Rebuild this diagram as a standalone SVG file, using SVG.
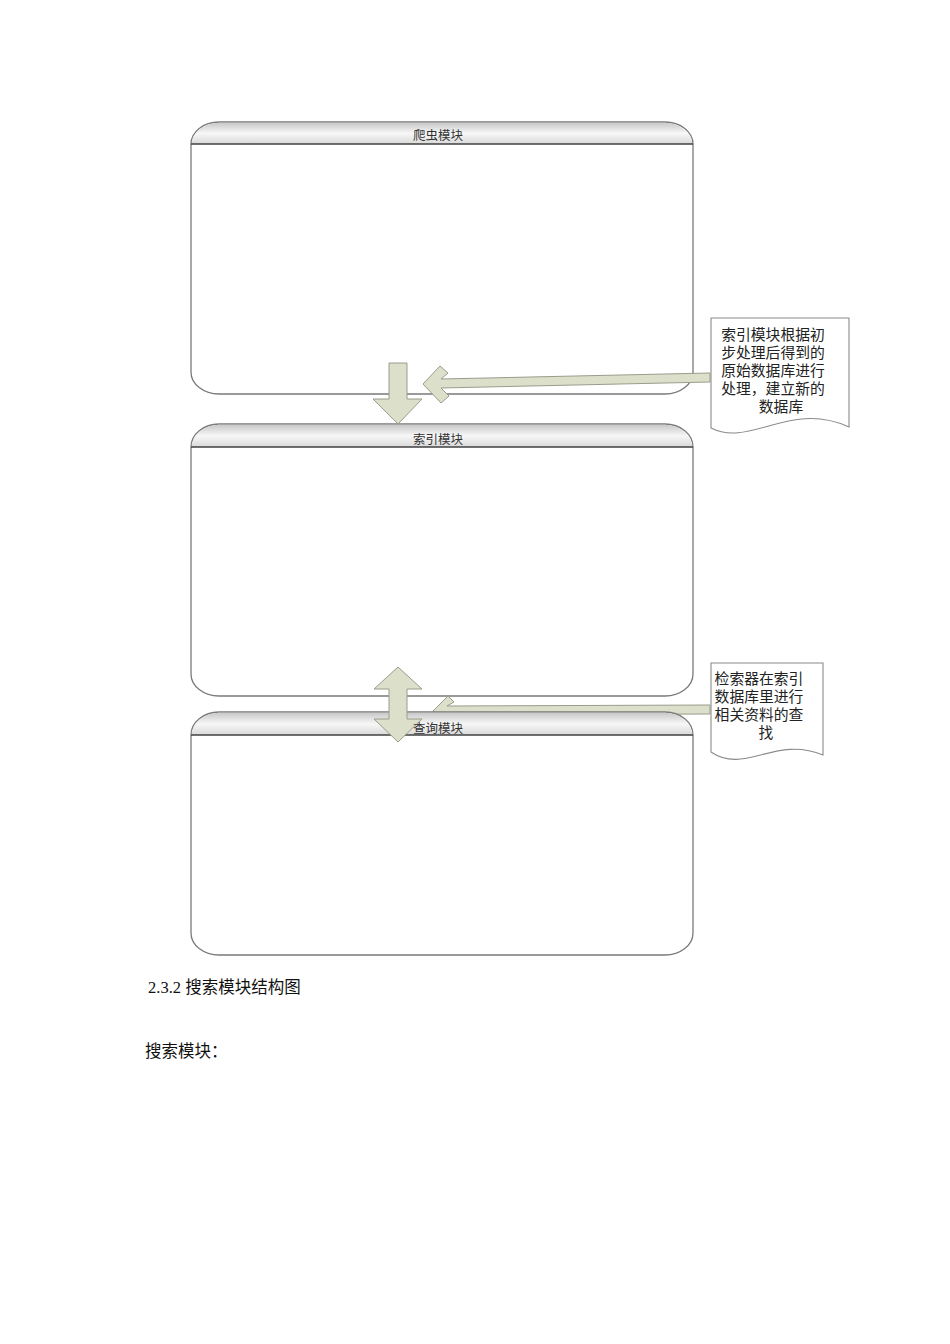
<svg xmlns="http://www.w3.org/2000/svg" width="950" height="1344" viewBox="0 0 950 1344">
<style>
.box{fill:#ffffff;stroke:#7a7a7a;stroke-width:1.3}
.hdr{fill:url(#hg);stroke:none}
.hline{stroke:#404040;stroke-width:1.5}
.lbl{font-family:"Noto Sans CJK SC","Liberation Sans",sans-serif;font-size:12.5px;fill:#333333;text-anchor:middle}
.arrow{fill:#dcdfca;stroke:#9a9c8c;stroke-width:1}
.doc{fill:#ffffff;stroke:#8a8a8a;stroke-width:1.1}
.dt{font-family:"Liberation Serif","Noto Sans CJK SC",serif;font-size:14.8px;fill:#222222;text-anchor:middle}
.body{font-family:"Liberation Serif","Noto Sans CJK SC",serif;font-size:16.5px;fill:#111111}
</style>
<defs>
<linearGradient id="hg" x1="0" y1="0" x2="0" y2="1">
<stop offset="0" stop-color="#c8c8c8"/>
<stop offset="0.5" stop-color="#f7f7f7"/>
<stop offset="1" stop-color="#d9d9d9"/>
</linearGradient>
</defs>
<rect width="950" height="1344" fill="#ffffff"/>

<g id="node-crawler">
<path class="box" d="M219 122 H665 A28 22 0 0 1 693 144 V372 A28 22 0 0 1 665 394 H219 A28 22 0 0 1 191 372 V144 A28 22 0 0 1 219 122 Z"/>
<path class="hdr" d="M191.7 144 A28 22 0 0 1 219 122.7 H665 A28 22 0 0 1 692.3 144 Z"/>
<line class="hline" x1="191" y1="144" x2="693" y2="144"/>
<text class="lbl" x="438" y="140">爬虫模块</text>
</g>

<g id="node-index">
<path class="box" d="M219 424 H665 A28 23 0 0 1 693 447 V674 A28 22 0 0 1 665 696 H219 A28 22 0 0 1 191 674 V447 A28 23 0 0 1 219 424 Z"/>
<path class="hdr" d="M191.7 447 A28 23 0 0 1 219 424.7 H665 A28 23 0 0 1 692.3 447 Z"/>
<line class="hline" x1="191" y1="447" x2="693" y2="447"/>
<text class="lbl" x="438" y="444">索引模块</text>
</g>

<g id="doc-index-note">
<path class="doc" d="M711 318 H849 V427 C790 400 750 448 711 428 Z"/>
<text class="dt" x="773" y="340">索引模块根据初</text>
<text class="dt" x="773" y="358">步处理后得到的</text>
<text class="dt" x="773" y="376">原始数据库进行</text>
<text class="dt" x="773" y="394">处理，建立新的</text>
<text class="dt" x="781" y="412">数据库</text>
</g>

<g id="doc-query-note">
<path class="doc" d="M711 663 H823 V755 C775 735 745 775 711 752 Z"/>
<text class="dt" x="759" y="684">检索器在索引</text>
<text class="dt" x="759" y="702">数据库里进行</text>
<text class="dt" x="759" y="720">相关资料的查</text>
<text class="dt" x="766" y="738">找</text>
</g>

<g id="connectors-back">
<polygon class="arrow" points="433,711 448,696 454,702 447,706 710,705 710,714 447,715 454,720 448,726"/>
</g>

<g id="node-query">
<path class="box" d="M219 712 H665 A28 23 0 0 1 693 735 V933 A28 22 0 0 1 665 955 H219 A28 22 0 0 1 191 933 V735 A28 23 0 0 1 219 712 Z"/>
<path class="hdr" d="M191.7 735 A28 23 0 0 1 219 712.7 H665 A28 23 0 0 1 692.3 735 Z"/>
<line class="hline" x1="191" y1="735" x2="693" y2="735"/>
</g>

<g id="connectors">
<polygon class="arrow" points="389,363 407,363 407,399 422,399 398,424 373,399 389,399"/>
<polygon class="arrow" points="423,384 440,366 448,373 441,379 710,373 710,382 441,388 449,396 441,403"/>
<polygon class="arrow" points="398,667 422,689 407,689 407,719 422,719 398,742 374,719 389,719 389,689 374,689"/>
</g>

<g id="node-query-label">
<text class="lbl" x="438" y="733">查询模块</text>
</g>

<g id="caption">
<text class="body" x="148" y="993">2.3.2 搜索模块结构图</text>
<text class="body" x="145" y="1057">搜索模块：</text>
</g>
</svg>
